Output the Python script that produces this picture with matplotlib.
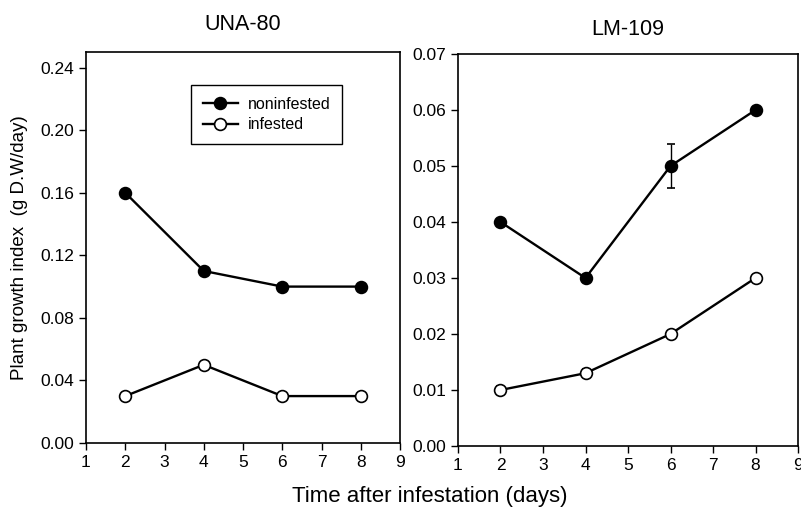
import matplotlib.pyplot as plt

plt.rcParams['font.family'] = ['Liberation Sans', 'DejaVu Sans']

days = [2, 4, 6, 8]

# UNA-80
una_non = [0.16, 0.11, 0.10, 0.10]
una_inf = [0.03, 0.05, 0.03, 0.03]

# LM-109
lm_non = [0.04, 0.03, 0.05, 0.06]
lm_non_err = [0.0, 0.0, 0.004, 0.0006]
lm_inf = [0.01, 0.013, 0.02, 0.03]
lm_inf_err = [0.0007, 0.0007, 0.0, 0.0]

fig = plt.figure(figsize=(8.01, 5.08), dpi=100)
ax1 = fig.add_axes([86/801, 1-443/508, (400-86)/801, (443-52)/508])
ax2 = fig.add_axes([458/801, 1-446/508, (798-458)/801, (446-54)/508])

style = dict(color='black', lw=1.7, ms=8.5, mec='black', mew=1.2, capsize=3, elinewidth=1)

ax1.errorbar(days, una_non, fmt='-o', mfc='black', label='noninfested', **style)
ax1.errorbar(days, una_inf, fmt='-o', mfc='white', label='infested', **style)
ax1.set_xlim(1, 9)
ax1.set_ylim(0, 0.25)
ax1.set_yticks([0, 0.04, 0.08, 0.12, 0.16, 0.20, 0.24])
ax1.set_yticklabels(['0.00', '0.04', '0.08', '0.12', '0.16', '0.20', '0.24'])
ax1.set_title('UNA-80', fontsize=15.5, pad=16)
ax1.set_ylabel('Plant growth index  (g D.W/day)', fontsize=13.5, labelpad=9)
leg = ax1.legend(loc='upper left', bbox_to_anchor=(0.334, 0.916), fontsize=11.5,
                 fancybox=False, edgecolor='black', framealpha=1, borderaxespad=0,
                 handlelength=2.2, borderpad=0.75, labelspacing=0.35, handletextpad=0.6)
leg.get_frame().set_linewidth(1)

ax2.errorbar(days, lm_non, yerr=lm_non_err, fmt='-o', mfc='black', **style)
ax2.errorbar(days, lm_inf, yerr=lm_inf_err, fmt='-o', mfc='white', **style)
ax2.set_xlim(1, 9)
ax2.set_ylim(0, 0.07)
ax2.set_yticks([0, 0.01, 0.02, 0.03, 0.04, 0.05, 0.06, 0.07])
ax2.set_yticklabels(['0.00', '0.01', '0.02', '0.03', '0.04', '0.05', '0.06', '0.07'])
ax2.set_title('LM-109', fontsize=15.5, pad=14)

for ax in (ax1, ax2):
    ax.set_xticks(range(1, 10))
    ax.tick_params(direction='out', length=5, width=1, labelsize=12.5, top=False, right=False)
    for s in ax.spines.values():
        s.set_linewidth(1.2)

fig.text(0.537, 0.012, 'Time after infestation (days)', ha='center', fontsize=16)

fig.savefig('out.png', dpi=100)
